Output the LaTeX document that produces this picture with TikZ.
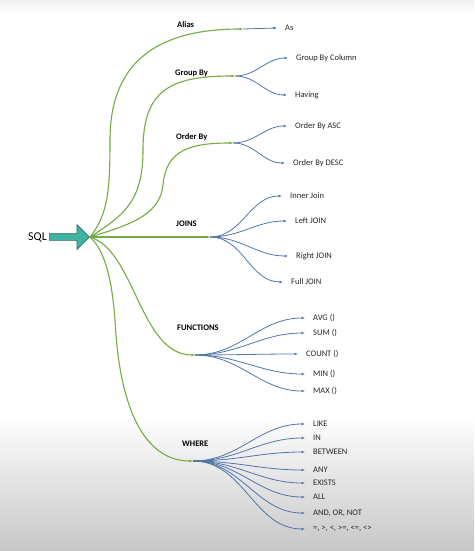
\documentclass[tikz,border=0pt]{standalone}
\usepackage{fontspec}
\setmainfont{Carlito}
\usetikzlibrary{arrows.meta, positioning, shapes.arrows}
\definecolor{branchgreen}{RGB}{118, 170, 66}
\definecolor{leafblue}{RGB}{80, 118, 170}
\definecolor{arrowteal}{RGB}{64, 180, 160}
\definecolor{arrowedge}{RGB}{36, 110, 98}
\tikzset{
    branch/.style={-{Latex[length=3.5pt, width=3pt]}, draw=branchgreen,
        line width=1.1pt},
    twig/.style={-{Latex[length=3.5pt, width=3pt]}, draw=leafblue,
        line width=.8pt},
    topic/.style={font=\bfseries\fontsize{8.5}{10}\selectfont, anchor=west,
        inner sep=0pt},
    leaf/.style={font=\fontsize{8.5}{10}\selectfont, anchor=west,
        inner xsep=8pt, inner ysep=0pt, text=black!85},
}

\begin{document}
\begin{tikzpicture}[x=1pt, y=-1pt]
        \useasboundingbox (0, 0) rectangle (474, 551);
        \shade[top color=black!6, bottom color=white] (0, 0) rectangle (474, 14);
        \shade[top color=white, bottom color=black!22] (0, 415) rectangle
            (474, 551);
        \node[font=\fontsize{12}{14}\selectfont, anchor=east, inner sep=0pt]
            (sql) at (47, 237) {SQL};
        \node[single arrow, fill=arrowteal, draw=arrowedge, line width=.7pt,
            minimum height=40pt, inner sep=3pt, single arrow head extend=9pt,
            right=2pt of sql] (sqlarrow) {};
        \coordinate (hub) at (sqlarrow.tip);
        \coordinate (aliasend) at (243, 29);
        \coordinate (groupend) at (235, 76);
        \coordinate (orderend) at (233, 143);
        \coordinate (joinsend) at (210, 237);
        \coordinate (funcend) at (195, 355);
        \coordinate (whereend) at (193, 461);
        \node[topic] (alias) at (177, 25) {Alias};
        \node[topic] (groupby) at (175, 73) {Group By};
        \node[topic] (orderby) at (176, 137) {Order By};
        \node[topic] (joins) at (176, 224) {JOINS};
        \node[topic] (functions) at (177, 328) {FUNCTIONS};
        \node[topic] (where) at (182, 444) {WHERE};
        \draw[branch] (hub) .. controls (108, 215) and (110, 190) .. (110, 140)
            .. controls (110, 60) and (160, 29) .. (aliasend);
        \draw[branch] (hub) .. controls (125, 215) and (143, 200) .. (143, 150)
            .. controls (143, 90) and (170, 76) .. (groupend);
        \draw[branch] (hub) .. controls (130, 225) and (160, 215) .. (163, 185)
            .. controls (166, 150) and (190, 143) .. (orderend);
        \draw[branch] (hub) -- (joinsend);
        \draw[branch] (hub) .. controls (135, 250) and (140, 355) .. (funcend);
        \draw[branch] (hub) .. controls (105, 250) and (112, 280) .. (115, 320)
            .. controls (120, 420) and (150, 461) .. (whereend);
        \node[leaf] (as) at (277, 28) {As};
        \node[leaf] (gbcol) at (288, 58) {Group By Column};
        \node[leaf] (having) at (287, 95) {Having};
        \node[leaf] (asc) at (287, 126) {Order By ASC};
        \node[leaf] (desc) at (285, 163) {Order By DESC};
        \node[leaf] (innerjoin) at (282, 196) {Inner Join};
        \node[leaf] (leftjoin) at (287, 221) {Left JOIN};
        \node[leaf] (rightjoin) at (288, 256) {Right JOIN};
        \node[leaf] (fulljoin) at (283, 282) {Full JOIN};
        \node[leaf] (avg) at (305, 318) {AVG ()};
        \node[leaf] (sum) at (305, 333) {SUM ()};
        \node[leaf] (count) at (298, 354) {COUNT ()};
        \node[leaf] (min) at (305, 374) {MIN ()};
        \node[leaf] (max) at (305, 391) {MAX ()};
        \node[leaf] (oplike) at (305, 424) {LIKE};
        \node[leaf] (opin) at (305, 438) {IN};
        \node[leaf] (opbetween) at (305, 452) {BETWEEN};
        \node[leaf] (opany) at (305, 470) {ANY};
        \node[leaf] (opexists) at (305, 483) {EXISTS};
        \node[leaf] (opall) at (305, 497) {ALL};
        \node[leaf] (oplogic) at (305, 513) {AND, OR, NOT};
        \node[leaf] (opcompare) at (305, 529) {=, >, <, >=, <=, <>};
        \draw[twig] (aliasend) -- (as.west);
        \foreach \leaf in {gbcol,having}
            \draw[twig] (groupend) to[out=0, in=180] (\leaf.west);
        \foreach \leaf in {asc,desc}
            \draw[twig] (orderend) to[out=0, in=180] (\leaf.west);
        \foreach \leaf in {innerjoin,leftjoin,rightjoin,fulljoin}
            \draw[twig] (joinsend) to[out=0, in=180] (\leaf.west);
        \foreach \leaf in {avg,sum,count,min,max}
            \draw[twig] (funcend) to[out=0, in=180] (\leaf.west);
        \foreach \leaf in {oplike,opin,opbetween,opany,opexists,opall,oplogic,
            opcompare}
            \draw[twig] (whereend) to[out=0, in=180] (\leaf.west);
    \end{tikzpicture}
\end{document}
